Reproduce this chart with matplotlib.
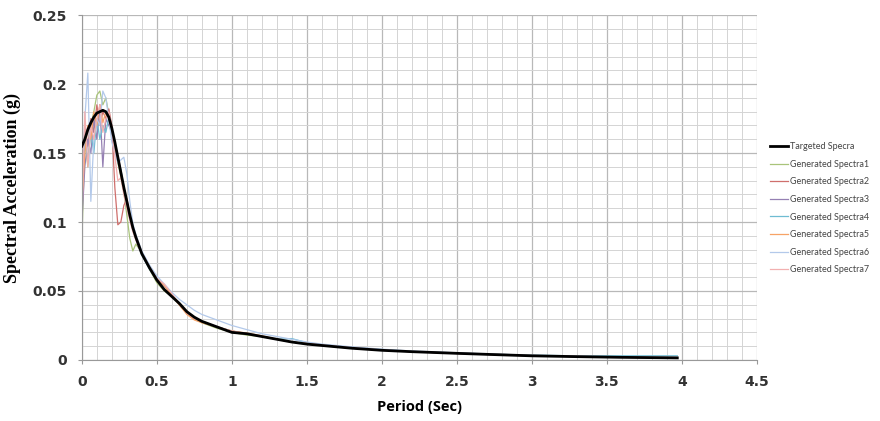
import matplotlib.pyplot as plt
from matplotlib.ticker import MultipleLocator

# periods (sec)
periods = [0, .02, .04, .06, .08, .1, .12, .14, .16, .18, .2, .22, .24, .26, .28, .3, .32, .34, .36,
           .4, .45, .5, .55, .6, .65, .7, .75, .8, .9, 1.0, 1.1, 1.2, 1.3, 1.4, 1.5, 1.6, 1.8, 2.0,
           2.2, 2.5, 2.8, 3.0, 3.3, 3.6, 3.97]

target = [0.155, 0.16, 0.167, 0.172, 0.176, 0.179, 0.18, 0.181, 0.18, 0.176, 0.168, 0.158, 0.147, 0.136,
          0.125, 0.115, 0.105, 0.096, 0.089, 0.077, 0.067, 0.058, 0.051, 0.046, 0.041, 0.035, 0.031, 0.028,
          0.024, 0.02, 0.019, 0.017, 0.015, 0.013, 0.0115, 0.0105, 0.0085, 0.007, 0.006, 0.0048, 0.0037,
          0.003, 0.0024, 0.0019, 0.0015]

gen1 = [0.085, 0.16, 0.14, 0.17, 0.18, 0.192, 0.195, 0.185, 0.19, 0.178, 0.165, 0.155, 0.143, 0.133, 0.122,
        0.105, 0.088, 0.079, 0.084, 0.078, 0.066, 0.056, 0.05, 0.046, 0.04, 0.034, 0.03, 0.027, 0.023, 0.02,
        0.018, 0.017, 0.015, 0.013, 0.012, 0.0105, 0.0085, 0.0072, 0.006, 0.0048, 0.0036, 0.003, 0.0024,
        0.0019, 0.0015]
gen2 = [0.11, 0.17, 0.155, 0.175, 0.165, 0.185, 0.17, 0.18, 0.175, 0.182, 0.17, 0.125, 0.098, 0.1, 0.112,
        0.117, 0.105, 0.096, 0.089, 0.078, 0.067, 0.059, 0.054, 0.047, 0.04, 0.034, 0.03, 0.028, 0.024, 0.021,
        0.019, 0.017, 0.015, 0.013, 0.0115, 0.0105, 0.0085, 0.007, 0.006, 0.0047, 0.0037, 0.003, 0.0024,
        0.0019, 0.0015]
gen3 = [0.1, 0.14, 0.16, 0.15, 0.175, 0.16, 0.185, 0.14, 0.175, 0.17, 0.165, 0.15, 0.148, 0.138, 0.122,
        0.113, 0.104, 0.095, 0.088, 0.077, 0.067, 0.058, 0.051, 0.046, 0.041, 0.035, 0.031, 0.028, 0.024, 0.02,
        0.019, 0.017, 0.015, 0.013, 0.0115, 0.0105, 0.0085, 0.007, 0.006, 0.0048, 0.0037, 0.003, 0.0024,
        0.0019, 0.0015]
gen4 = [0.12, 0.16, 0.145, 0.165, 0.15, 0.175, 0.16, 0.17, 0.165, 0.176, 0.165, 0.155, 0.145, 0.138, 0.126,
        0.115, 0.104, 0.095, 0.088, 0.076, 0.066, 0.058, 0.051, 0.046, 0.041, 0.035, 0.031, 0.028, 0.024, 0.021,
        0.019, 0.017, 0.015, 0.0155, 0.0125, 0.011, 0.009, 0.0075, 0.0062, 0.005, 0.004, 0.0035, 0.003,
        0.003, 0.003]
gen5 = [0.115, 0.15, 0.17, 0.16, 0.18, 0.17, 0.185, 0.172, 0.18, 0.178, 0.168, 0.157, 0.145, 0.134, 0.123,
        0.113, 0.104, 0.096, 0.089, 0.078, 0.068, 0.059, 0.054, 0.047, 0.04, 0.033, 0.029, 0.027, 0.024, 0.021,
        0.0195, 0.0175, 0.015, 0.013, 0.012, 0.011, 0.009, 0.0073, 0.0062, 0.005, 0.004, 0.0033, 0.0027,
        0.0022, 0.0018]
gen6 = [0.13, 0.175, 0.208, 0.115, 0.16, 0.175, 0.17, 0.195, 0.19, 0.175, 0.158, 0.15, 0.143, 0.145, 0.147,
        0.135, 0.115, 0.099, 0.091, 0.079, 0.069, 0.061, 0.055, 0.049, 0.044, 0.04, 0.036, 0.033, 0.029, 0.025,
        0.022, 0.019, 0.017, 0.015, 0.013, 0.0115, 0.0095, 0.0078, 0.0065, 0.0052, 0.0041, 0.0034, 0.0028,
        0.0023, 0.0019]
gen7 = [0.1, 0.18, 0.14, 0.17, 0.16, 0.175, 0.185, 0.165, 0.175, 0.18, 0.168, 0.148, 0.13, 0.132, 0.12,
        0.11, 0.101, 0.093, 0.087, 0.077, 0.067, 0.059, 0.055, 0.048, 0.041, 0.034, 0.03, 0.028, 0.024, 0.021,
        0.019, 0.017, 0.015, 0.013, 0.012, 0.0108, 0.0088, 0.0072, 0.006, 0.0048, 0.0037, 0.003, 0.0025,
        0.002, 0.0016]

generated = [gen1, gen2, gen3, gen4, gen5, gen6, gen7]
gen_colors = ['#a9c47a', '#cf6f6c', '#9580b3', '#6fbcd2', '#f7a366', '#b3c9ea', '#f2b0b0']

fig = plt.figure(figsize=(8.8, 4.21), dpi=100)
ax = fig.add_axes([0.093, 0.145, 0.767, 0.819])

for i, g in enumerate(generated):
    ax.plot(periods, g, color=gen_colors[i], lw=0.9, label='Generated Spectra' + str(i + 1))
ax.plot(periods, target, color='black', lw=2.0, label='Targeted Specra', zorder=5)

ax.set_xlim(0, 4.5)
ax.set_ylim(0, 0.25)
ax.xaxis.set_major_locator(MultipleLocator(0.5))
ax.xaxis.set_minor_locator(MultipleLocator(0.1))
ax.yaxis.set_major_locator(MultipleLocator(0.05))
ax.yaxis.set_minor_locator(MultipleLocator(0.01))
ax.set_xticks([0, 0.5, 1, 1.5, 2, 2.5, 3, 3.5, 4, 4.5])
ax.set_xticklabels(['0', '0.5', '1', '1.5', '2', '2.5', '3', '3.5', '4', '4.5'])
ax.set_yticks([0, 0.05, 0.1, 0.15, 0.2, 0.25])
ax.set_yticklabels(['0', '0.05', '0.1', '0.15', '0.2', '0.25'])
ax.grid(which='major', color='#b8b8b8', lw=0.9)
ax.grid(which='minor', color='#d4d4d4', lw=0.7)
ax.set_axisbelow(True)
for s in ['top', 'right']:
    ax.spines[s].set_visible(False)
for s in ['left', 'bottom']:
    ax.spines[s].set_color('#999999')
ax.tick_params(which='minor', length=0)
ax.tick_params(which='major', length=3, color='#999999', labelsize=10, pad=8)
for lab in ax.get_xticklabels() + ax.get_yticklabels():
    lab.set_fontweight('bold')
    lab.set_color('#333333')

ax.set_xlabel('Period (Sec)', fontsize=10.5, fontweight='bold', family='Open Sans', labelpad=8)
ax.set_ylabel('Spectral Acceleration (g)', fontsize=13, fontweight='bold', family='Liberation Serif',
              labelpad=8)

handles, labels = ax.get_legend_handles_labels()
handles = [handles[-1]] + handles[:-1]
labels = [labels[-1]] + labels[:-1]
leg = ax.legend(handles, labels, loc='upper left', bbox_to_anchor=(1.008, 0.655), frameon=False,
                prop={'family': 'Lato', 'size': 6.5}, handlelength=2.0, handletextpad=0.2,
                labelspacing=0.95)
for t in leg.get_texts():
    t.set_color('#444444')

fig.savefig('out.png', dpi=100)
